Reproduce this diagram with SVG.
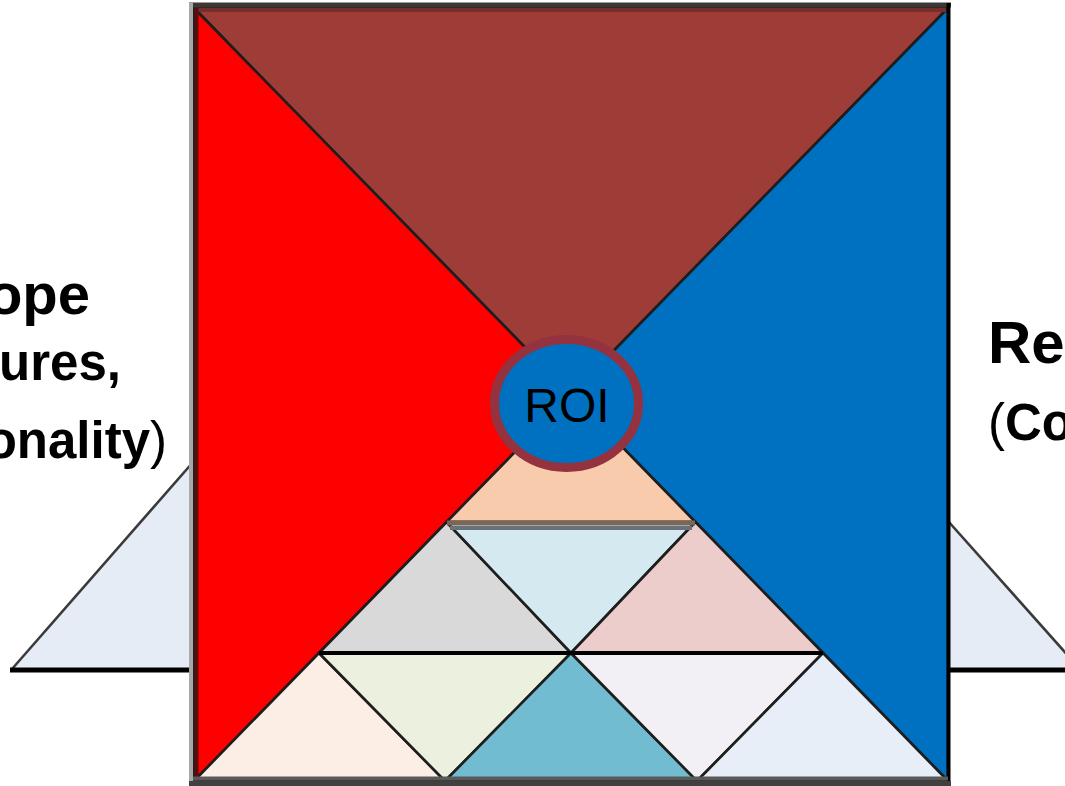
<svg xmlns="http://www.w3.org/2000/svg" width="1065" height="786" viewBox="0 0 1065 786">
<style>
.lbl{font-family:"Liberation Sans",Arial,sans-serif;fill:#000}
.b{font-weight:bold}
.tri{stroke:#1E1E1E;stroke-width:2.6;stroke-linejoin:round}
.side{fill:#E6ECF6;stroke:none}
</style>
<rect width="1065" height="786" fill="#fff"/>
<g id="side-left">
<polygon class="side" points="12,669 194,461 194,669"/>
<line x1="12" y1="669" x2="194" y2="461" stroke="#3A3A3A" stroke-width="2.6"/>
<line x1="10" y1="670" x2="194" y2="670" stroke="#000" stroke-width="5"/>
</g>
<g id="side-right">
<polygon class="side" points="948,521 1080,669 948,669"/>
<line x1="948" y1="521" x2="1080" y2="669" stroke="#3A3A3A" stroke-width="2.6"/>
<line x1="948" y1="670" x2="1065" y2="670" stroke="#000" stroke-width="5"/>
</g>
<g id="text-left">
<text class="lbl b" x="90" y="314" font-size="58" text-anchor="end">ope</text>
<text class="lbl b" x="121" y="380" font-size="51" text-anchor="end">ures,</text>
<text class="lbl" x="167" y="458" font-size="51" text-anchor="end"><tspan class="b">onality</tspan>)</text>
</g>
<g id="text-right">
<text class="lbl b" x="988" y="363" font-size="60">Re</text>
<text class="lbl" x="988" y="440" font-size="51">(<tspan class="b">Co</tspan></text>
</g>
<g id="square">
<polygon id="top" class="tri" fill="#9E3C38" points="194,8 948,8 571,394.5"/>
<polygon id="left" class="tri" fill="#FF0000" points="194,8 194,781 571,394.5"/>
<polygon id="right" class="tri" fill="#0070C0" points="948,8 948,781 571,394.5"/>
<polygon id="t-peach" class="tri" fill="#F8CBAD" points="571,394.5 446.6,522 695.4,522"/>
<polygon id="t-grey" class="tri" fill="#D9D9D9" points="446.6,522 319,653 571,653"/>
<polygon id="t-lightblue" class="tri" fill="#D5E9F0" points="446.6,522 695.4,522 571,653"/>
<polygon id="t-pink" class="tri" fill="#EDCDCB" points="695.4,522 571,653 823,653"/>
<polygon id="t-lightpeach" class="tri" fill="#FCEEE4" points="319,653 194,781 445,781"/>
<polygon id="t-green" class="tri" fill="#EBF1DE" points="319,653 571,653 445,781"/>
<polygon id="t-teal" class="tri" fill="#71BCD1" points="571,653 445,781 697,781"/>
<polygon id="t-lavender" class="tri" fill="#F2F0F5" points="571,653 823,653 697,781"/>
<polygon id="t-paleblue" class="tri" fill="#E7EEF7" points="823,653 697,781 948,781"/>
</g>
<g id="connectors">
<line x1="447" y1="523" x2="695" y2="523" stroke="#7B6655" stroke-width="5"/>
<line x1="450" y1="528" x2="692" y2="528" stroke="#69727A" stroke-width="4"/>
<line x1="319" y1="653" x2="823" y2="653" stroke="#000" stroke-width="4"/>
<line x1="196" y1="10" x2="946" y2="10" stroke="#772F2B" stroke-width="4"/>
<line x1="189" y1="5" x2="951" y2="5" stroke="#3D3836" stroke-width="5"/>
<line x1="191" y1="3" x2="191" y2="786" stroke="#A8A8A8" stroke-width="4"/>
<line x1="196.5" y1="8" x2="196.5" y2="781" stroke="#5C0C0C" stroke-width="4"/>
<line x1="948.5" y1="3" x2="948.5" y2="786" stroke="#000" stroke-width="4"/>
<line x1="193" y1="778.5" x2="948" y2="778.5" stroke="#5A5A5A" stroke-width="4"/>
<line x1="189" y1="783.5" x2="951" y2="783.5" stroke="#404040" stroke-width="5"/>
</g>
<g id="roi">
<ellipse cx="566.5" cy="403.5" rx="72" ry="64" fill="#0070C0" stroke="#943240" stroke-width="9"/>
<text class="lbl" x="567" y="422" font-size="48" text-anchor="middle">ROI</text>
</g>
</svg>
